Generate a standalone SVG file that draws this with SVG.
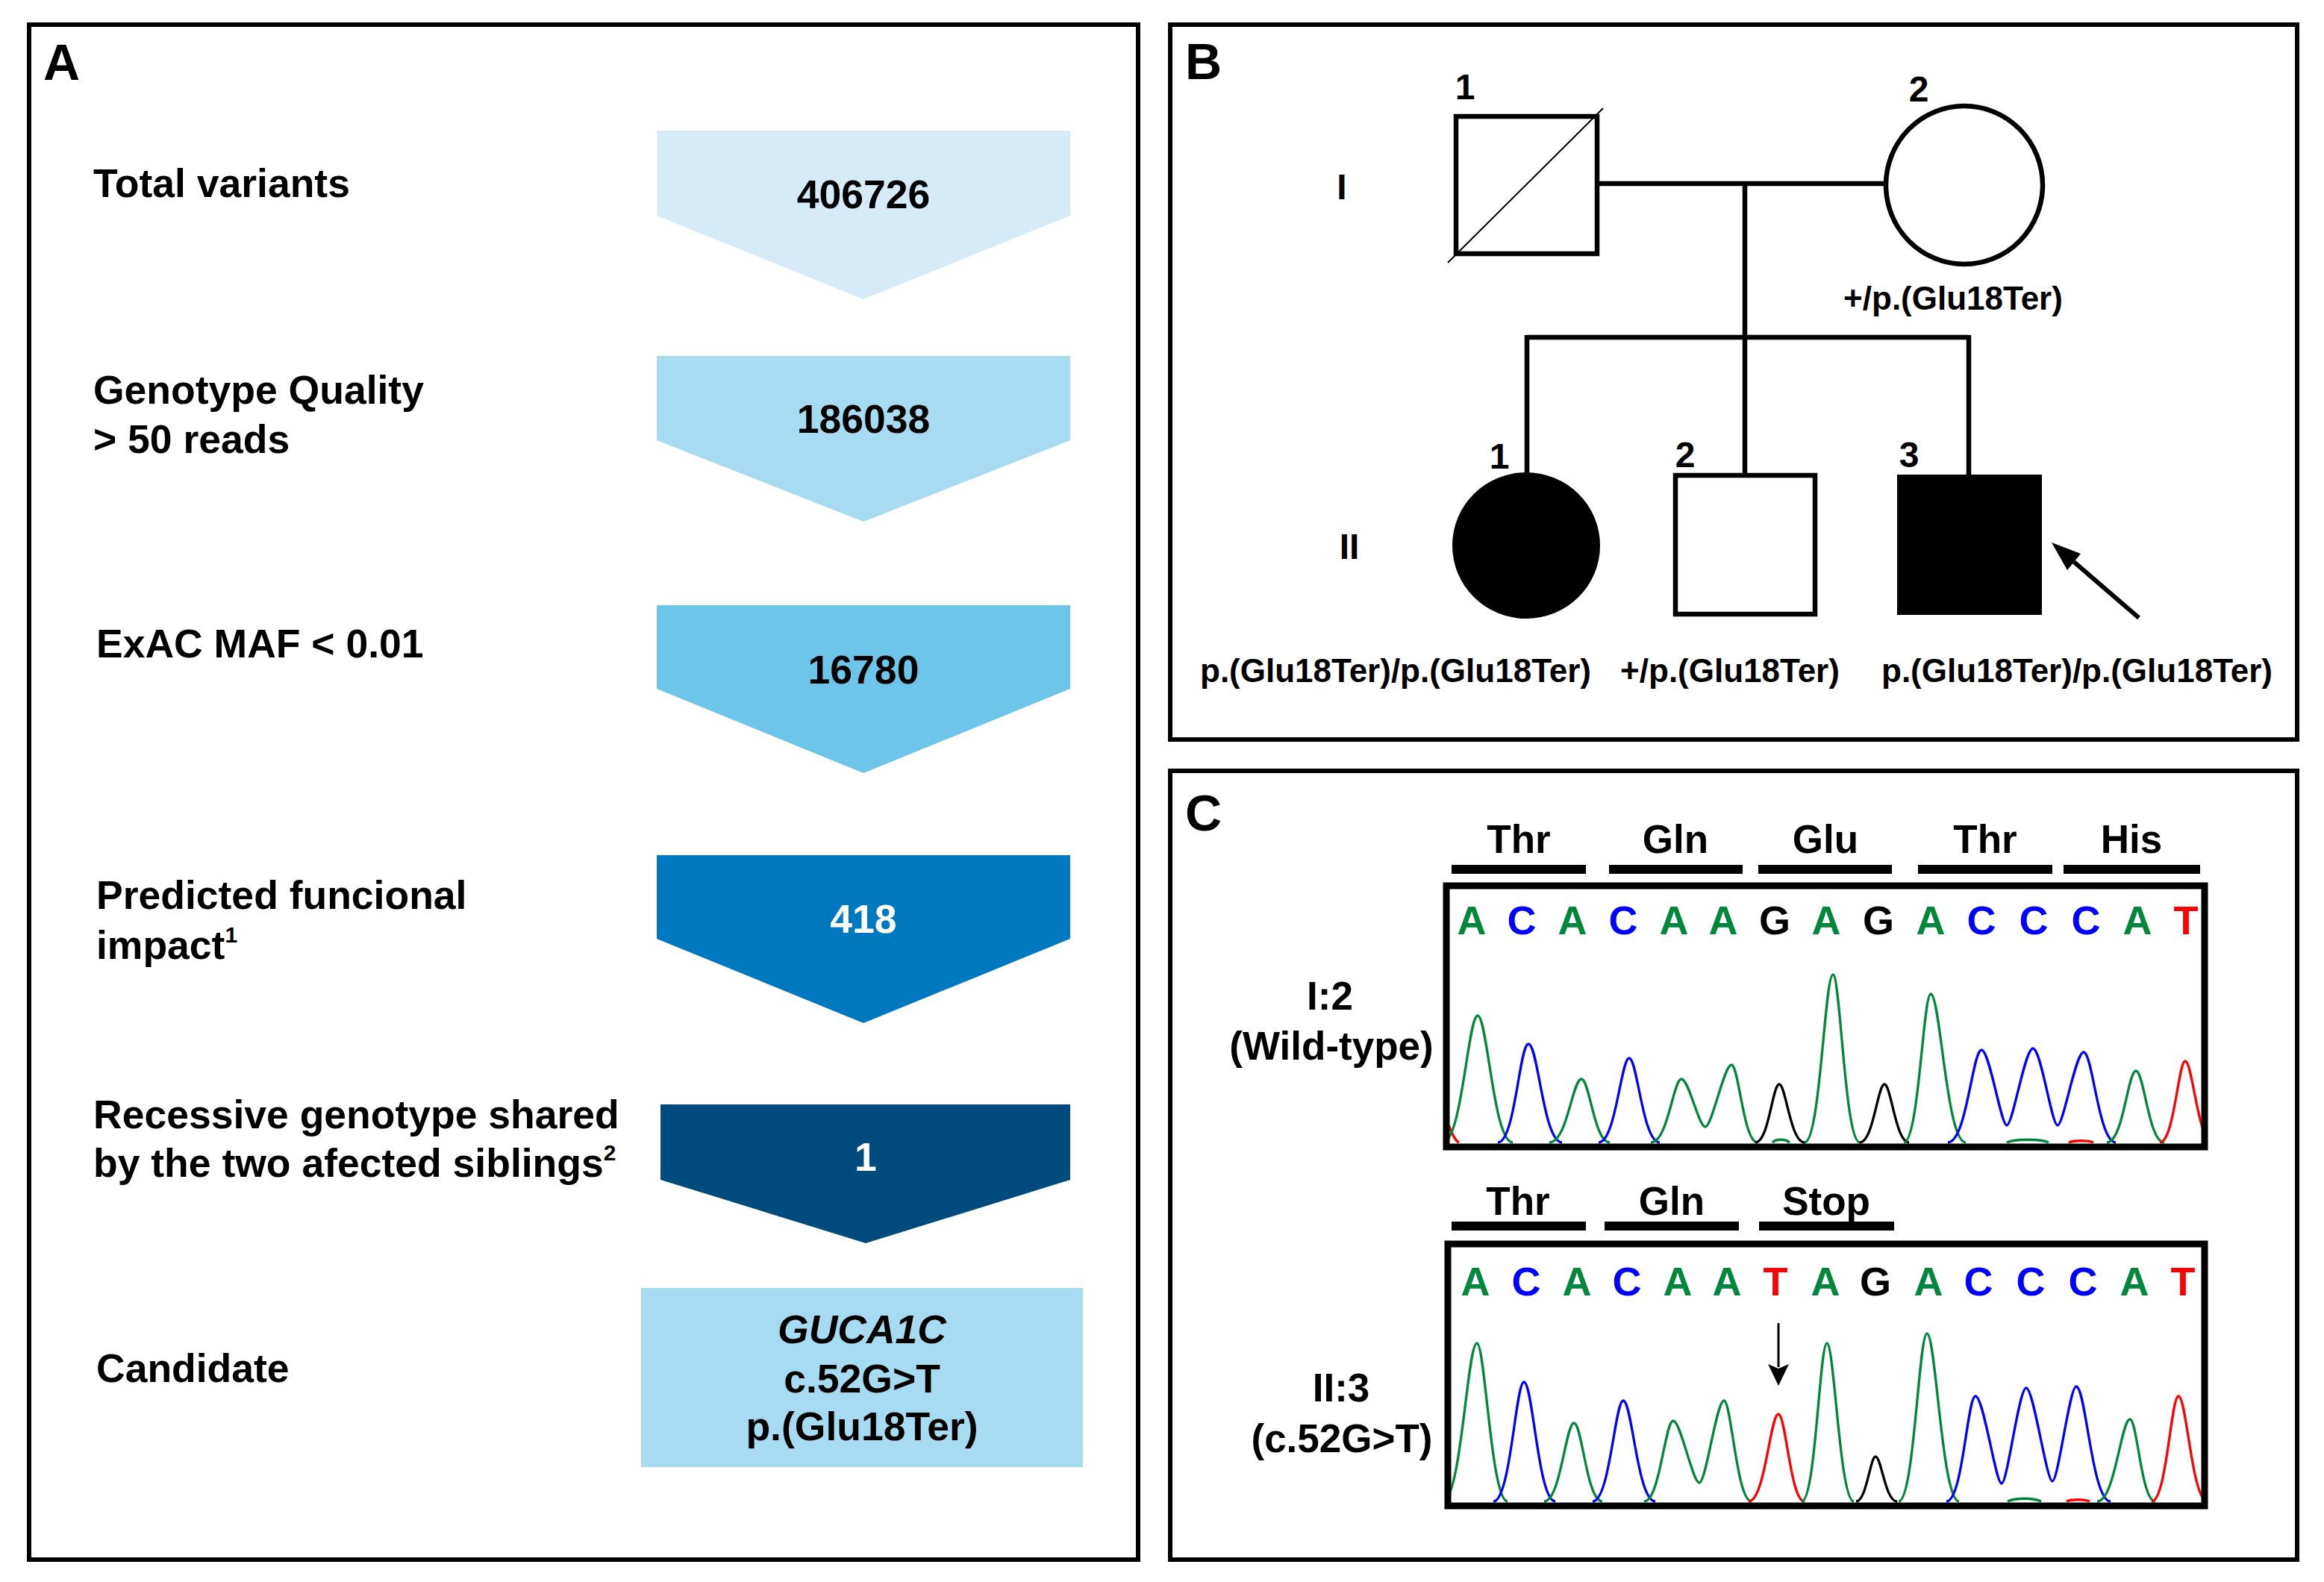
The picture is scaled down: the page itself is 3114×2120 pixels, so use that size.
<svg xmlns="http://www.w3.org/2000/svg" width="3114" height="2120" viewBox="0 0 3114 2120">
<style>
.t{font-family:"Liberation Sans",Arial,sans-serif;font-weight:bold;fill:#000}
.lbl{font-size:53.5px}
.num{font-size:53.5px;text-anchor:middle}
.pan{font-size:68px}
.ped{font-size:44px;text-anchor:middle}
.gen{font-size:48px;text-anchor:middle}
.cod{font-size:53px;text-anchor:middle}
.b{font-size:54px;text-anchor:middle}
.A{fill:#00873C}.C{fill:#0000FF}.G{fill:#000}.T{fill:#FF0000}
.frame{fill:none;stroke:#000;stroke-width:6}
.box{fill:none;stroke:#000;stroke-width:9}
.pl{fill:none;stroke:#000;stroke-width:6.5}
.tr{fill:none;stroke-width:3.3;stroke-linejoin:round}
.gA{stroke:#00873C}.gC{stroke:#0000FF}.gG{stroke:#000}.gT{stroke:#FF0000}
</style>
<defs>
<clipPath id="clipTop"><rect x="1942" y="1191" width="1008" height="342"/></clipPath>
<clipPath id="clipBot"><rect x="1944" y="1671" width="1006" height="343"/></clipPath>
</defs>
<rect width="3114" height="2120" fill="#fff"/>

<!-- Panel A -->
<g id="panelA">
<rect class="frame" x="39" y="33" width="1486" height="2057"/>
<text class="t pan" x="58" y="107">A</text>
<g id="step1">
<polygon points="880,175 1434,175 1434,289 1157,401 880,289" fill="#D5ECF8"/>
<text class="t num" x="1157" y="279">406726</text>
<text class="t lbl" x="125" y="264">Total variants</text>
</g>
<g id="step2">
<polygon points="880,477 1434,477 1434,590 1157,699 880,590" fill="#A7DBF1"/>
<text class="t num" x="1157" y="580">186038</text>
<text class="t lbl" x="125" y="541">Genotype Quality</text>
<text class="t lbl" x="125" y="607">&gt; 50 reads</text>
</g>
<g id="step3">
<polygon points="880,811 1434,811 1434,923 1157,1036 880,923" fill="#6DC5EA"/>
<text class="t num" x="1157" y="916">16780</text>
<text class="t lbl" x="129" y="881">ExAC MAF &lt; 0.01</text>
</g>
<g id="step4">
<polygon points="880,1146 1434,1146 1434,1258 1157,1371 880,1258" fill="#0078BF"/>
<text class="t num" x="1157" y="1250" style="fill:#fff">418</text>
<text class="t lbl" x="129" y="1218">Predicted funcional</text>
<text class="t lbl" x="129" y="1285">impact<tspan font-size="30" dy="-22">1</tspan></text>
</g>
<g id="step5">
<polygon points="885,1480 1434,1480 1434,1581 1160,1666 885,1581" fill="#004B7D"/>
<text class="t num" x="1160" y="1569" style="fill:#fff">1</text>
<text class="t lbl" x="125" y="1512">Recessive genotype shared</text>
<text class="t lbl" x="125" y="1577">by the two afected siblings<tspan font-size="30" dy="-22">2</tspan></text>
</g>
<g id="candidate">
<rect x="859" y="1726" width="592" height="240" fill="#A7DBF1"/>
<text class="t num" x="1155" y="1800" font-style="italic">GUCA1C</text>
<text class="t num" x="1155" y="1866">c.52G&gt;T</text>
<text class="t num" x="1155" y="1930">p.(Glu18Ter)</text>
<text class="t lbl" x="129" y="1852">Candidate</text>
</g>
</g>

<!-- Panel B -->
<g id="panelB">
<rect class="frame" x="1568" y="33" width="1510" height="958"/>
<text class="t pan" x="1588" y="106">B</text>
<text class="t gen" x="1798" y="267">I</text>
<text class="t gen" x="1808" y="749">II</text>
</g>

<g id="connectors">
<line class="pl" x1="2140" y1="246" x2="2527" y2="246"/>
<line class="pl" x1="2338" y1="246" x2="2338" y2="637"/>
<line class="pl" x1="2046" y1="452" x2="2638" y2="452"/>
<line class="pl" x1="2046" y1="449" x2="2046" y2="634"/>
<line class="pl" x1="2638" y1="449" x2="2638" y2="636"/>
<line x1="2866" y1="828" x2="2779" y2="753" stroke="#000" stroke-width="6"/>
<polygon points="2749,727 2788,742 2770,764" fill="#000"/>
</g>

<g id="I1">
<rect class="pl" x="1951" y="156" width="189" height="184" fill="#fff"/>
<line x1="1940" y1="352" x2="2148" y2="145" stroke="#000" stroke-width="2"/>
<text class="t gen" x="1963" y="133">1</text>
</g>
<g id="I2">
<ellipse class="pl" cx="2632" cy="248" rx="105" ry="106"/>
<text class="t gen" x="2571" y="136">2</text>
<text class="t ped" x="2617" y="415">+/p.(Glu18Ter)</text>
</g>
<g id="II1">
<ellipse cx="2045" cy="731" rx="99" ry="98" fill="#000"/>
<text class="t gen" x="2009" y="628">1</text>
<text class="t ped" x="1870" y="914">p.(Glu18Ter)/p.(Glu18Ter)</text>
</g>
<g id="II2">
<rect class="pl" x="2245" y="637" width="187" height="186" fill="#fff"/>
<text class="t gen" x="2258" y="626">2</text>
<text class="t ped" x="2318" y="914">+/p.(Glu18Ter)</text>
</g>
<g id="II3">
<rect x="2542" y="636" width="194" height="188" fill="#000"/>
<text class="t gen" x="2558" y="626">3</text>
<text class="t ped" x="2783" y="914">p.(Glu18Ter)/p.(Glu18Ter)</text>
</g>

<!-- Panel C -->
<g id="panelC">
<rect class="frame" x="1568" y="1033" width="1510" height="1057"/>
<text class="t pan" x="1588" y="1113">C</text>

<g id="wildtype">
<text class="t cod" x="2035" y="1143">Thr</text>
<text class="t cod" x="2245" y="1143">Gln</text>
<text class="t cod" x="2446" y="1143">Glu</text>
<text class="t cod" x="2660" y="1143">Thr</text>
<text class="t cod" x="2856" y="1143">His</text>
<rect x="1945" y="1159" width="180" height="12"/>
<rect x="2156" y="1159" width="179" height="12"/>
<rect x="2356" y="1159" width="179" height="12"/>
<rect x="2570" y="1159" width="180" height="12"/>
<rect x="2765" y="1159" width="183" height="12"/>
<text class="t cod" x="1782" y="1353">I:2</text>
<text class="t cod" x="1784" y="1420">(Wild-type)</text>
<g class="t b">
<text class="A" x="1972" y="1252">A</text>
<text class="C" x="2039" y="1252">C</text>
<text class="A" x="2107" y="1252">A</text>
<text class="C" x="2175" y="1252">C</text>
<text class="A" x="2243" y="1252">A</text>
<text class="A" x="2309" y="1252">A</text>
<text class="G" x="2378" y="1252">G</text>
<text class="A" x="2447" y="1252">A</text>
<text class="G" x="2517" y="1252">G</text>
<text class="A" x="2587" y="1252">A</text>
<text class="C" x="2655" y="1252">C</text>
<text class="C" x="2725" y="1252">C</text>
<text class="C" x="2795" y="1252">C</text>
<text class="A" x="2864" y="1252">A</text>
<text class="T" x="2929" y="1252">T</text>
</g>
<g clip-path="url(#clipTop)">
<path class="tr gT" d="M1940,1506 C1945,1515 1948,1528 1955,1531"/>
<path class="tr gA" d="M1933,1531 C1959,1531 1967,1361 1980,1361 C1993,1361 2001,1531 2027,1531"/>
<path class="tr gC" d="M2007,1531 C2030,1531 2036,1399 2048,1399 C2061,1399 2068,1531 2093,1531"/>
<path class="tr gA" d="M2076,1531 C2100,1531 2107,1446 2119,1446 C2130,1446 2136,1531 2157,1531"/>
<path class="tr gC" d="M2142,1531 C2165,1531 2172,1418 2183,1418 C2194,1418 2201,1531 2224,1531"/>
<path class="tr gA" d="M2212,1531 C2235,1531 2242,1446 2253,1446 C2263,1446 2276,1510 2285,1510 C2294,1510 2310,1427 2320,1427 C2330,1427 2336,1531 2355,1531"/>
<path class="tr gG" d="M2352,1531 C2370,1531 2375,1453 2384,1453 C2393,1453 2399,1531 2418,1531"/>
<path class="tr gA" d="M2418,1531 C2439,1531 2445,1306 2456,1306 C2466,1306 2472,1531 2492,1531"/>
<path class="tr gG" d="M2492,1531 C2510,1531 2516,1453 2525,1453 C2534,1453 2540,1531 2558,1531"/>
<path class="tr gA" d="M2551,1531 C2571,1531 2577,1332 2587,1332 C2600,1332 2608,1531 2634,1531"/>
<path class="tr gC" d="M2610,1531 C2635,1531 2643,1407 2655,1407 C2666,1407 2681,1508 2689,1508 C2697,1508 2713,1405 2724,1405 C2735,1405 2749,1508 2757,1508 C2765,1508 2781,1410 2792,1410 C2804,1410 2812,1531 2835,1531"/>
<path class="tr gA" d="M2823,1531 C2845,1531 2851,1435 2862,1435 C2873,1435 2879,1531 2900,1531"/>
<path class="tr gT" d="M2894,1531 C2913,1531 2919,1422 2928,1422 C2938,1422 2945,1531 2965,1531"/>
<path class="tr gA" d="M2375,1531 C2380,1526 2392,1526 2398,1531"/>
<path class="tr gA" d="M2689,1531 C2699,1526 2735,1526 2745,1531"/>
<path class="tr gT" d="M2772,1531 C2779,1528 2798,1528 2805,1531"/>
</g>
<rect class="box" x="1938" y="1187" width="1016" height="350"/>
</g>

<g id="mutant">
<text class="t cod" x="2034" y="1628">Thr</text>
<text class="t cod" x="2240" y="1628">Gln</text>
<text class="t cod" x="2447" y="1628">Stop</text>
<rect x="1945" y="1637" width="180" height="12"/>
<rect x="2150" y="1637" width="180" height="12"/>
<rect x="2357" y="1637" width="181" height="12"/>
<text class="t cod" x="1797" y="1878">II:3</text>
<text class="t cod" x="1798" y="1946">(c.52G&gt;T)</text>
<g class="t b">
<text class="A" x="1977" y="1736">A</text>
<text class="C" x="2045" y="1736">C</text>
<text class="A" x="2113" y="1736">A</text>
<text class="C" x="2180" y="1736">C</text>
<text class="A" x="2248" y="1736">A</text>
<text class="A" x="2314" y="1736">A</text>
<text class="T" x="2379" y="1736">T</text>
<text class="A" x="2446" y="1736">A</text>
<text class="G" x="2513" y="1736">G</text>
<text class="A" x="2584" y="1736">A</text>
<text class="C" x="2651" y="1736">C</text>
<text class="C" x="2721" y="1736">C</text>
<text class="C" x="2791" y="1736">C</text>
<text class="A" x="2860" y="1736">A</text>
<text class="T" x="2925" y="1736">T</text>
</g>
<g clip-path="url(#clipBot)">
<path class="tr gA" d="M1933,2012 C1958,2012 1966,1800 1979,1800 C1990,1800 1998,2012 2020,2012"/>
<path class="tr gC" d="M2001,2012 C2024,2012 2031,1852 2042,1852 C2054,1852 2061,2012 2084,2012"/>
<path class="tr gA" d="M2069,2012 C2091,2012 2098,1907 2109,1907 C2120,1907 2126,2012 2147,2012"/>
<path class="tr gC" d="M2134,2012 C2157,2012 2164,1877 2175,1877 C2187,1877 2194,2012 2218,2012"/>
<path class="tr gA" d="M2203,2012 C2224,2012 2231,1904 2242,1904 C2252,1904 2268,1987 2277,1987 C2286,1987 2300,1877 2310,1877 C2320,1877 2327,2012 2347,2012"/>
<path class="tr gT" d="M2343,2012 C2365,2012 2372,1895 2383,1895 C2393,1895 2399,2012 2418,2012"/>
<path class="tr gA" d="M2414,2012 C2433,2012 2438,1800 2448,1800 C2458,1800 2465,2012 2484,2012"/>
<path class="tr gG" d="M2487,2012 C2501,2012 2506,1952 2513,1952 C2521,1952 2526,2012 2542,2012"/>
<path class="tr gA" d="M2544,2012 C2565,2012 2571,1787 2582,1787 C2594,1787 2602,2012 2625,2012"/>
<path class="tr gC" d="M2608,2012 C2630,2012 2636,1871 2647,1871 C2658,1871 2674,1988 2682,1988 C2690,1988 2705,1860 2715,1860 C2725,1860 2742,1985 2750,1985 C2758,1985 2773,1858 2782,1858 C2795,1858 2803,2012 2828,2012"/>
<path class="tr gA" d="M2810,2012 C2834,2012 2842,1902 2854,1902 C2864,1902 2869,2012 2888,2012"/>
<path class="tr gT" d="M2883,2012 C2903,2012 2909,1871 2919,1871 C2930,1871 2937,2012 2958,2012"/>
<path class="tr gA" d="M2690,2012 C2700,2007 2725,2007 2735,2012"/>
<path class="tr gT" d="M2769,2012 C2775,2009 2794,2009 2800,2012"/>
</g>
<rect class="box" x="1940" y="1667" width="1014" height="351"/>
<line x1="2383" y1="1773" x2="2383" y2="1832" stroke="#000" stroke-width="3"/>
<polygon points="2369,1828 2383,1834 2397,1828 2383,1857" fill="#000"/>
</g>
</g>
</svg>
